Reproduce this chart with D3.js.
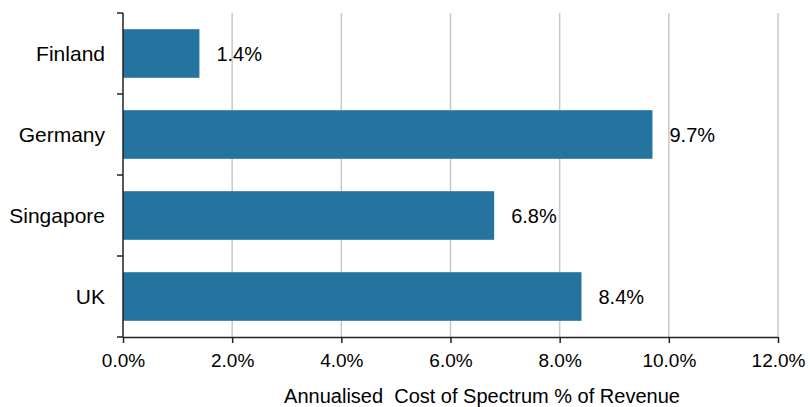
<!DOCTYPE html>
<html><head><meta charset="utf-8">
<script src="https://cdn.jsdelivr.net/npm/d3@7"></script>
<style>body{margin:0;background:#fff}svg{display:block}text{font-family:Arial,"Liberation Sans",sans-serif;fill:#000}</style>
</head><body>
<script>
const categories = ["Finland","Germany","Singapore","UK"];
const values = [1.4, 9.7, 6.8, 8.4];
const valueLabels = ["1.4%","9.7%","6.8%","8.4%"];
const xTicks = [0,2,4,6,8,10,12];
const xTickLabels = ["0.0%","2.0%","4.0%","6.0%","8.0%","10.0%","12.0%"];
const axisTitle = "Annualised  Cost of Spectrum % of Revenue";

const W=810,H=407;
const m={left:123,right:32,top:13,bottom:70};
const svg=d3.select("body").append("svg").attr("width",W).attr("height",H);
const x=d3.scaleLinear().domain([0,12]).range([m.left,778]);
const y=d3.scaleBand().domain(categories).range([m.top,337]).paddingInner(0.4).paddingOuter(0.2);
const yb=d3.scaleBand().domain(categories).range([m.top,337]);

// gridlines
svg.append("g").selectAll("line").data(xTicks.slice(1)).join("line")
  .attr("x1",d=>x(d)).attr("x2",d=>x(d)).attr("y1",m.top).attr("y2",337)
  .attr("stroke","#c8c8c8").attr("stroke-width",1.5);

// bars
svg.append("g").selectAll("rect").data(categories).join("rect")
  .attr("x",x(0)).attr("y",d=>y(d)).attr("width",(d,i)=>x(values[i])-x(0)).attr("height",y.bandwidth())
  .attr("fill","#25739f");

// value labels
svg.append("g").selectAll("text").data(categories).join("text")
  .attr("x",(d,i)=>x(values[i])+17).attr("y",d=>y(d)+y.bandwidth()/2)
  .attr("dy","0.36em").attr("font-size",20).text((d,i)=>valueLabels[i]);

// x axis
const xAxis=svg.append("g").attr("transform","translate(0,337)")
  .call(d3.axisBottom(x).tickValues(xTicks).tickFormat((d,i)=>xTickLabels[i]).tickSize(6).tickSizeOuter(0).tickPadding(11));
xAxis.selectAll("text").attr("font-size",19).attr("fill","#000");
xAxis.selectAll("line,path").attr("stroke","#222").attr("stroke-width",1.5);

// y axis with ticks at band boundaries
const yg=svg.append("g");
yg.append("line").attr("x1",x(0)).attr("x2",x(0)).attr("y1",m.top).attr("y2",337).attr("stroke","#222").attr("stroke-width",1.5);
const bounds=categories.map(c=>yb(c)).concat([337]);
yg.selectAll("line.t").data(bounds).join("line").attr("class","t")
  .attr("x1",x(0)-6).attr("x2",x(0)).attr("y1",d=>d).attr("y2",d=>d).attr("stroke","#222").attr("stroke-width",1.5);
yg.selectAll("text").data(categories).join("text")
  .attr("x",105).attr("y",d=>y(d)+y.bandwidth()/2).attr("dy","0.36em")
  .attr("text-anchor","end").attr("font-size",21).text(d=>d);

// axis title
svg.append("text").attr("x",482).attr("y",396).attr("dy","0.36em").attr("text-anchor","middle")
  .attr("font-size",20).style("white-space","pre").text(axisTitle);
</script>
</body></html>
